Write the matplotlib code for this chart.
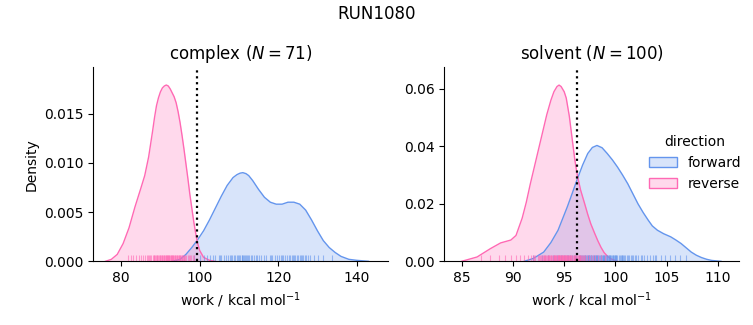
import matplotlib
matplotlib.use('Agg')
import matplotlib.pyplot as plt
from matplotlib.patches import Patch
from matplotlib.colors import to_rgba

# density curves (x in kcal/mol, density)
cx_rev_x = [76, 77.5, 79, 80.5, 82, 83.5, 85, 86, 87, 88, 88.5, 89, 89.5, 90, 90.5, 91, 91.5, 92, 92.5,
            93, 93.5, 94, 94.5, 95, 95.5, 96, 96.5, 97, 97.5, 98, 98.5, 99, 99.5, 100, 101, 102.5, 104]
cx_rev_d = [0.0, 0.0002, 0.0007, 0.0018, 0.0034, 0.0055, 0.0074, 0.0087, 0.0106, 0.0132, 0.0146, 0.0158,
            0.0166, 0.0172, 0.0176, 0.0178, 0.0179, 0.0178, 0.0175, 0.0171, 0.0167, 0.0161, 0.0152,
            0.0141, 0.0128, 0.0114, 0.0099, 0.0084, 0.0068, 0.0054, 0.0040, 0.0028, 0.0018, 0.0011,
            0.0004, 0.0001, 0.0]
cx_fwd_x = [93, 95, 96.5, 98, 99.5, 101, 102.5, 104, 105.5, 107, 108.5, 109.5, 110.3, 111, 111.8, 112.5,
            113.5, 115, 116.5, 118, 119.5, 121, 122.5, 124, 125.5, 127, 128.5, 130, 131.5, 133, 134.5,
            136, 138, 140, 143]
cx_fwd_d = [0.0, 0.0002, 0.0007, 0.0014, 0.0022, 0.0031, 0.0042, 0.0054, 0.0066, 0.0077, 0.0085, 0.0088,
            0.00895, 0.0090, 0.0089, 0.0087, 0.0082, 0.0073, 0.0065, 0.0060, 0.0058, 0.0058, 0.0060,
            0.0060, 0.0058, 0.0052, 0.0042, 0.0031, 0.0021, 0.0014, 0.0009, 0.0005, 0.0002, 0.0001, 0.0]

sv_rev_x = [85, 86.5, 87.8, 88.8, 89.3, 89.8, 90.3, 90.9, 91.3, 91.7, 92.2, 92.7, 93.0, 93.3, 93.7, 94.0,
            94.3, 94.5, 94.7, 95.0, 95.2, 95.5, 95.8, 96.05, 96.3, 96.6, 97.0, 97.3, 97.6, 98.0, 98.3,
            98.6, 98.9, 99.3, 99.6, 100.2]
sv_rev_d = [0.0, 0.0015, 0.0044, 0.0064, 0.0069, 0.0074, 0.0090, 0.0150, 0.0205, 0.0270, 0.0345, 0.0420,
            0.0465, 0.0510, 0.0560, 0.0590, 0.0608, 0.0613, 0.0608, 0.0590, 0.0568, 0.0505, 0.0420,
            0.0350, 0.0296, 0.0248, 0.0200, 0.0163, 0.0130, 0.0095, 0.0070, 0.0048, 0.0030, 0.0015,
            0.0008, 0.0]
sv_fwd_x = [91.1, 92.0, 93.0, 93.7, 94.4, 95.3, 95.8, 96.3, 96.8, 97.3, 97.75, 98.2, 98.7, 99.2, 99.7,
            100.2, 100.7, 101.2, 101.7, 102.2, 102.7, 103.2, 103.6, 104.1, 104.7, 105.4, 105.9, 106.4,
            106.9, 107.4, 107.9, 108.4, 108.9, 109.4, 110.3]
sv_fwd_d = [0.0, 0.0010, 0.0032, 0.0065, 0.0108, 0.0189, 0.0238, 0.0288, 0.0335, 0.0375, 0.0396, 0.0403,
            0.0395, 0.0375, 0.0353, 0.0328, 0.0300, 0.0270, 0.0235, 0.0200, 0.0170, 0.0143, 0.0123,
            0.0108, 0.0096, 0.0085, 0.0074, 0.0062, 0.0047, 0.0032, 0.0021, 0.0013, 0.0007, 0.0003, 0.0]

# individual work values (rug)
cx_rev_w = [81.7, 82.4, 83.1, 83.9, 84.5, 85.0, 85.6, 86.1, 86.5, 86.9, 87.3, 87.6, 88.0, 88.3, 88.6,
            88.9, 89.1, 89.4, 89.6, 89.9, 90.1, 90.3, 90.5, 90.7, 90.9, 91.1, 91.3, 91.4, 91.6, 91.8,
            92.0, 92.1, 92.3, 92.5, 92.6, 92.8, 93.0, 93.2, 93.3, 93.5, 93.7, 93.9, 94.1, 94.3, 94.5,
            94.7, 94.9, 95.1, 95.3, 95.5, 95.7, 95.9, 96.1, 96.3, 96.6, 96.9, 97.2, 97.5, 97.8, 98.2,
            98.6, 87.0, 88.4, 89.2, 90.0, 91.0, 91.9, 92.9, 93.8, 94.8, 95.6]
cx_fwd_w = [98.5, 100.2, 101.0, 101.8, 102.6, 103.3, 104.0, 104.8, 105.5, 106.1, 106.7, 107.3, 107.8,
            108.3, 108.7, 109.1, 109.5, 109.8, 110.1, 110.4, 110.7, 111.0, 111.3, 111.6, 111.9, 112.2,
            112.6, 113.0, 113.4, 113.9, 114.4, 115.0, 115.6, 116.3, 117.0, 117.8, 118.5, 119.1, 119.7,
            120.3, 120.8, 121.3, 121.8, 122.3, 122.7, 123.1, 123.5, 123.9, 124.3, 124.7, 125.1, 125.5,
            125.9, 126.4, 126.9, 127.5, 128.2, 129.0, 130.1, 131.5, 133.8, 105.2, 108.0, 110.9, 112.0,
            114.7, 118.1, 121.0, 124.0, 126.1, 127.0]
sv_rev_w = [86.9, 87.8, 88.6, 89.2, 89.8, 90.3, 90.7, 91.1, 91.5, 91.8,
            92.0, 92.2, 92.4, 92.5, 92.7, 92.8, 93.0, 93.1, 93.2, 93.3,
            93.4, 93.5, 93.6, 93.7, 93.8, 93.9, 94.0, 94.05, 94.1, 94.2,
            94.25, 94.3, 94.35, 94.4, 94.45, 94.5, 94.55, 94.6, 94.65, 94.7,
            94.75, 94.8, 94.85, 94.9, 95.0, 95.05, 95.1, 95.15, 95.2, 95.3,
            95.35, 95.4, 95.5, 95.6, 95.7, 95.8, 95.9, 96.0, 96.1, 96.2,
            96.3, 96.4, 96.5, 96.6, 96.7, 96.8, 96.9, 97.0, 97.2, 97.4,
            97.6, 97.8, 98.0, 98.3, 98.6, 99.0, 92.1, 92.9, 93.15, 93.45,
            93.75, 94.15, 94.5, 94.95, 95.25, 95.45, 95.65, 95.95, 96.25, 96.55,
            92.6, 93.05, 93.55, 94.0, 94.4, 94.8, 95.1, 95.55, 96.05, 96.45]
sv_fwd_w = [92.0, 92.8, 93.4, 93.9, 94.3, 94.7, 95.0, 95.3, 95.6, 95.8,
            96.0, 96.2, 96.4, 96.6, 96.7, 96.9, 97.0, 97.1, 97.2, 97.3,
            97.4, 97.5, 97.6, 97.7, 97.8, 97.9, 98.0, 98.1, 98.2, 98.3,
            98.4, 98.5, 98.6, 98.7, 98.8, 98.9, 99.0, 99.1, 99.2, 99.3,
            99.4, 99.5, 99.6, 99.7, 99.8, 99.9, 100.0, 100.1, 100.2, 100.35,
            100.5, 100.65, 100.8, 100.95, 101.1, 101.3, 101.5, 101.7, 101.9, 102.2,
            102.5, 102.8, 103.1, 103.4, 103.7, 104.0, 104.4, 104.8, 105.3, 105.8,
            106.3, 106.9, 96.5, 97.05, 97.35, 97.65, 97.95, 98.25, 98.55, 98.85,
            99.15, 99.45, 99.75, 100.05, 100.45, 100.75, 101.2, 101.6, 102.0, 102.6,
            95.4, 96.1, 96.8, 97.45, 98.15, 98.75, 99.35, 99.95, 100.6, 103.9]

# free energy estimates (dotted lines)
dg_complex = 99.3
dg_solvent = 96.25

fwd_color = 'cornflowerblue'
rev_color = 'hotpink'

fig = plt.figure(figsize=(7.53, 3.25), dpi=100)
ax1 = fig.add_axes([0.1239, 0.196, 0.392, 0.597])
ax2 = fig.add_axes([0.590, 0.196, 0.392, 0.597])

panels = [
    (ax1, 'complex ($N = 71$)', cx_fwd_x, cx_fwd_d, cx_rev_x, cx_rev_d, cx_fwd_w, cx_rev_w, dg_complex,
     (72.9, 148.1), [80, 100, 120, 140], 0.0197, [0, 0.005, 0.010, 0.015], '{:.3f}'),
    (ax2, 'solvent ($N = 100$)', sv_fwd_x, sv_fwd_d, sv_rev_x, sv_rev_d, sv_fwd_w, sv_rev_w, dg_solvent,
     (83.3, 112.1), [85, 90, 95, 100, 105, 110], 0.0675, [0, 0.02, 0.04, 0.06], '{:.2f}'),
]

for ax, title, fx, fd, rx, rd, fw, rw, dg, xlim, xt, ytop, yt, fmt in panels:
    for x, d, c in [(fx, fd, fwd_color), (rx, rd, rev_color)]:
        ax.fill_between(x, d, color=c, alpha=0.25, lw=0)
        ax.plot(x, d, color=c, lw=1, solid_joinstyle='round')
    for w, c in [(fw, fwd_color), (rw, rev_color)]:
        ax.vlines(w, 0, 0.03, transform=ax.get_xaxis_transform(), color=c, lw=0.8, alpha=0.6)
    ax.axvline(dg, color='black', ls=':', lw=1.6)
    ax.set_xlim(*xlim)
    ax.set_ylim(0, ytop)
    ax.set_xticks(xt)
    ax.set_yticks(yt)
    ax.set_yticklabels([fmt.format(v) for v in yt])
    ax.set_title(title, fontsize=12)
    ax.set_xlabel('work / kcal mol$^{-1}$', fontsize=10)
    ax.spines['top'].set_visible(False)
    ax.spines['right'].set_visible(False)
    ax.tick_params(labelsize=10)

ax1.set_ylabel('Density', fontsize=10)

handles = [Patch(facecolor=to_rgba(fwd_color, 0.25), edgecolor=fwd_color, lw=1, label='forward'),
           Patch(facecolor=to_rgba(rev_color, 0.25), edgecolor=rev_color, lw=1, label='reverse')]
fig.legend(handles=handles, title='direction', loc='center left', bbox_to_anchor=(0.845, 0.498),
           frameon=False, fontsize=10, title_fontsize=10)

fig.suptitle('RUN1080', fontsize=12, y=0.985)

fig.savefig('out.png', dpi=100)
